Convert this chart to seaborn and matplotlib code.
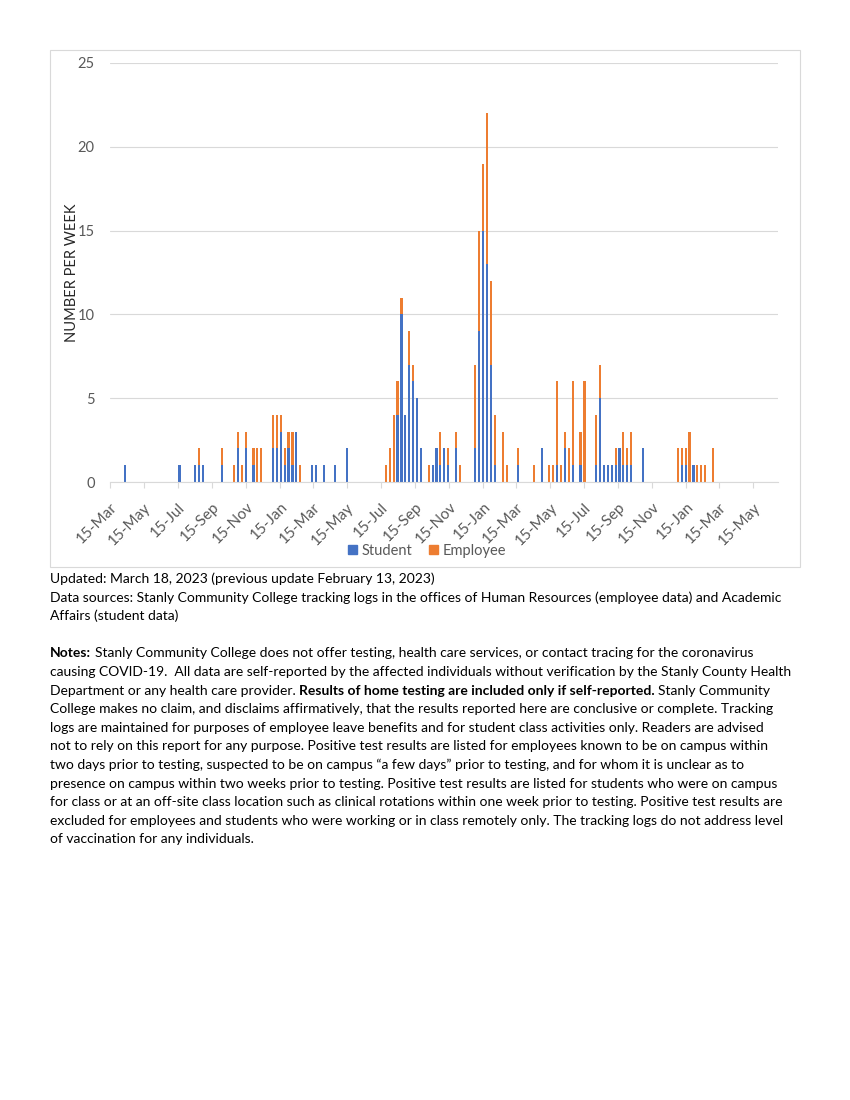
import matplotlib
matplotlib.use("Agg")
import matplotlib.pyplot as plt
from matplotlib.patches import Patch, Rectangle
import pandas as pd
import seaborn as sns

# weekly positive cases, only weeks that had any (week 0 = week of 11-Apr-2020)
week = [0, 14, 18, 19, 20, 25, 28, 29, 30, 31, 33, 34, 35, 38, 39, 40, 41, 42, 43, 44, 45,
        48, 49, 51, 54, 57, 67, 68, 69, 70, 71, 72, 73, 74, 75, 76, 78, 79, 80, 81, 82, 83,
        85, 86, 90, 91, 92, 93, 94, 95, 97, 98, 101, 105, 107, 109, 110, 111, 112, 113, 114,
        115, 117, 118, 121, 122, 123, 124, 125, 126, 127, 128, 129, 130, 133, 142, 143, 144,
        145, 146, 147, 148, 149, 151]
student = [1, 1, 1, 1, 1, 1, 0, 2, 0, 2, 1, 0, 0, 2, 2, 3, 1, 2, 1, 3, 0,
           1, 1, 1, 1, 2, 0, 0, 0, 4, 10, 4, 7, 6, 5, 2, 0, 1, 2, 1, 2, 1,
           2, 0, 2, 9, 15, 13, 7, 1, 0, 0, 1, 0, 2, 0, 0, 1, 0, 2, 0,
           1, 1, 0, 1, 5, 1, 1, 1, 1, 2, 1, 1, 1, 2, 0, 1, 1,
           0, 1, 0, 0, 0, 0]
employee = [0, 0, 0, 1, 0, 1, 1, 1, 1, 1, 1, 2, 2, 2, 2, 1, 1, 1, 2, 0, 1,
            0, 0, 0, 0, 0, 1, 2, 4, 2, 1, 0, 2, 1, 0, 0, 1, 0, 0, 2, 0, 1,
            1, 1, 5, 6, 4, 9, 5, 3, 3, 1, 1, 1, 0, 1, 1, 5, 1, 1, 2,
            5, 2, 6, 3, 2, 0, 0, 0, 1, 0, 2, 1, 2, 0, 2, 1, 1,
            3, 0, 1, 1, 1, 2]

first_week = pd.Timestamp("2020-04-11")
axis_start = pd.Timestamp("2020-03-15")
axis_end = pd.Timestamp("2023-06-29")
tick_dates = [axis_start + pd.DateOffset(months=2 * i) for i in range(20)]
tick_labels = [d.strftime("%d-%b") for d in tick_dates]
y_ticks = [0, 5, 10, 15, 20, 25]

blue = "#4472C4"
orange = "#ED7D31"
gray_txt = "#595959"
grid_col = "#D9D9D9"

df = pd.DataFrame({"week": week, "Student": student, "Employee": employee})
df["date"] = first_week + pd.to_timedelta(df["week"] * 7, unit="D")
df["day"] = (df["date"] - axis_start).dt.days
df["total"] = df["Student"] + df["Employee"]

sns.set_style("white")
plt.rcParams["font.family"] = ["Lato", "DejaVu Sans"]

fig = plt.figure(figsize=(8.5, 11), dpi=100)
ax = fig.add_axes([110 / 850, 1 - 482 / 1100, 668 / 850, 419 / 1100])

# stacked look: total in orange, student drawn over it from the bottom
sns.barplot(data=df, x="day", y="total", native_scale=True, orient="x", color=orange,
            saturation=1, width=0.55, errorbar=None, linewidth=0, ax=ax)
sns.barplot(data=df[df["Student"] > 0], x="day", y="Student", native_scale=True, orient="x",
            color=blue, saturation=1, width=0.55, errorbar=None, linewidth=0, ax=ax)

ax.set_xlim(0, (axis_end - axis_start).days)
ax.set_ylim(0, 25)
ax.set_yticks(y_ticks)
ax.set_xticks([(d - axis_start).days for d in tick_dates])
ax.set_xticklabels(tick_labels, rotation=45, ha="right", va="top", rotation_mode="anchor")
ax.tick_params(axis="x", length=4, color=grid_col, labelsize=11, labelcolor=gray_txt, pad=9,
               bottom=True)
ax.tick_params(axis="y", length=0, labelsize=10.5, labelcolor=gray_txt, pad=11)
ax.grid(axis="y", color=grid_col, linewidth=0.8)
ax.set_axisbelow(True)
for s in ["top", "right", "left"]:
    ax.spines[s].set_visible(False)
ax.spines["bottom"].set_color(grid_col)
ax.set_xlabel("")
ax.set_ylabel("NUMBER PER WEEK", fontsize=10.5, color="#262626")
ax.yaxis.set_label_coords(-0.047, 0.5)

fig.legend(handles=[Patch(color=blue, label="Student"), Patch(color=orange, label="Employee")],
           loc="center", bbox_to_anchor=(427 / 850, 1 - 551 / 1100), ncol=2, frameon=False,
           fontsize=10.5, labelcolor=gray_txt, handlelength=0.6, handleheight=0.6,
           handletextpad=0.3, columnspacing=1.2)

fig.add_artist(Rectangle((50 / 850, 1 - 567 / 1100), 750 / 850, 517 / 1100,
                         transform=fig.transFigure, fill=False, edgecolor=grid_col, linewidth=0.8))

# text block under the chart
body = [
    [("Updated: March 18, 2023 (previous update February 13, 2023)", "normal")],
    [("Data sources: Stanly Community College tracking logs in the offices of Human Resources (employee data) and Academic", "normal")],
    [("Affairs (student data)", "normal")],
    [],
    [("Notes:", "bold"), ("Stanly Community College does not offer testing, health care services, or contact tracing for the coronavirus", "normal")],
    [("causing COVID-19.  All data are self-reported by the affected individuals without verification by the Stanly County Health", "normal")],
    [("Department or any health care provider.", "normal"), ("Results of home testing are included only if self-reported.", "bold"), ("Stanly Community", "normal")],
    [("College makes no claim, and disclaims affirmatively, that the results reported here are conclusive or complete. Tracking", "normal")],
    [("logs are maintained for purposes of employee leave benefits and for student class activities only. Readers are advised", "normal")],
    [("not to rely on this report for any purpose. Positive test results are listed for employees known to be on campus within", "normal")],
    [("two days prior to testing, suspected to be on campus \u201ca few days\u201d prior to testing, and for whom it is unclear as to", "normal")],
    [("presence on campus within two weeks prior to testing. Positive test results are listed for students who were on campus", "normal")],
    [("for class or at an off-site class location such as clinical rotations within one week prior to testing. Positive test results are", "normal")],
    [("excluded for employees and students who were working or in class remotely only. The tracking logs do not address level", "normal")],
    [("of vaccination for any individuals.", "normal")],
]
fs = 10.0
fig.canvas.draw()
r = fig.canvas.get_renderer()


def width_px(s, weight):
    t = fig.text(0, 0, s, fontsize=fs, weight=weight)
    w = t.get_window_extent(r).width
    t.remove()
    return w


space = width_px("a a", "normal") - width_px("aa", "normal")
for i, line in enumerate(body):
    base = 583 + 18.6 * i
    x = 50
    for txt, wt in line:
        t = fig.text(x / 850, 1 - base / 1100, txt, fontsize=fs, weight=wt, va="baseline",
                     color="black")
        x += t.get_window_extent(r).width + space

fig.savefig("out.png", dpi=100)
